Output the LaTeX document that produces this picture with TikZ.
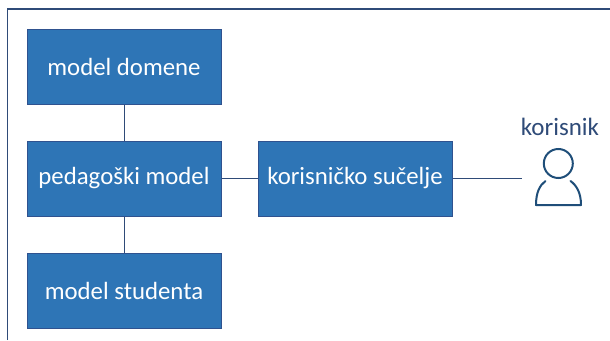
\documentclass[tikz,border=0pt]{standalone}
\usepackage{fontspec}
\setmainfont{Carlito}
\definecolor{boxfill}{HTML}{2E75B6}
\definecolor{boxline}{HTML}{2F528F}
\definecolor{frameline}{HTML}{2F4B78}
\definecolor{iconline}{HTML}{1F4E79}
\begin{document}
\begin{tikzpicture}[x=1pt,y=-1pt,
  modelbox/.style={draw=boxline,line width=1pt,fill=boxfill,text=white,minimum width=194pt,minimum height=75pt,inner sep=0pt,font=\fontsize{24.8}{28}\selectfont},
  conn/.style={draw=frameline,line width=1pt},
  framestyle/.style={draw=frameline,line width=1.8pt},
  icon/.style={draw=iconline,line width=2pt,line cap=round,line join=round}]
\useasboundingbox (0,0) rectangle (610,340);
\draw[framestyle] (7.5,340) -- (7.5,9) -- (610,9);
\node[modelbox] (domena) at (124,66.5) {model domene};
\node[modelbox] (pedagog) at (124,178.5) {pedagoški model};
\node[modelbox] (student) at (124,290.5) {model studenta};
\node[modelbox] (sucelje) at (355,178.5) {korisničko sučelje};
\coordinate (korend) at (522,178.5);
\draw[conn] (domena) -- (pedagog);
\draw[conn] (pedagog) -- (student);
\draw[conn] (pedagog) -- (sucelje);
\draw[conn] (sucelje) -- (korend);
\node[text=frameline,inner sep=0pt,font=\fontsize{25}{28}\selectfont] (korisnik) at (560,127) {korisnik};
\node[draw=iconline,line width=2pt,circle,minimum size=29pt,inner sep=0pt] (glava) at (558.3,163.5) {};
\draw[icon] (545.5,181) .. controls (540,185) and (536,192) .. (536,205) -- (581,205) .. controls (581,192) and (576,185) .. (570.5,181);
\end{tikzpicture}
\end{document}
